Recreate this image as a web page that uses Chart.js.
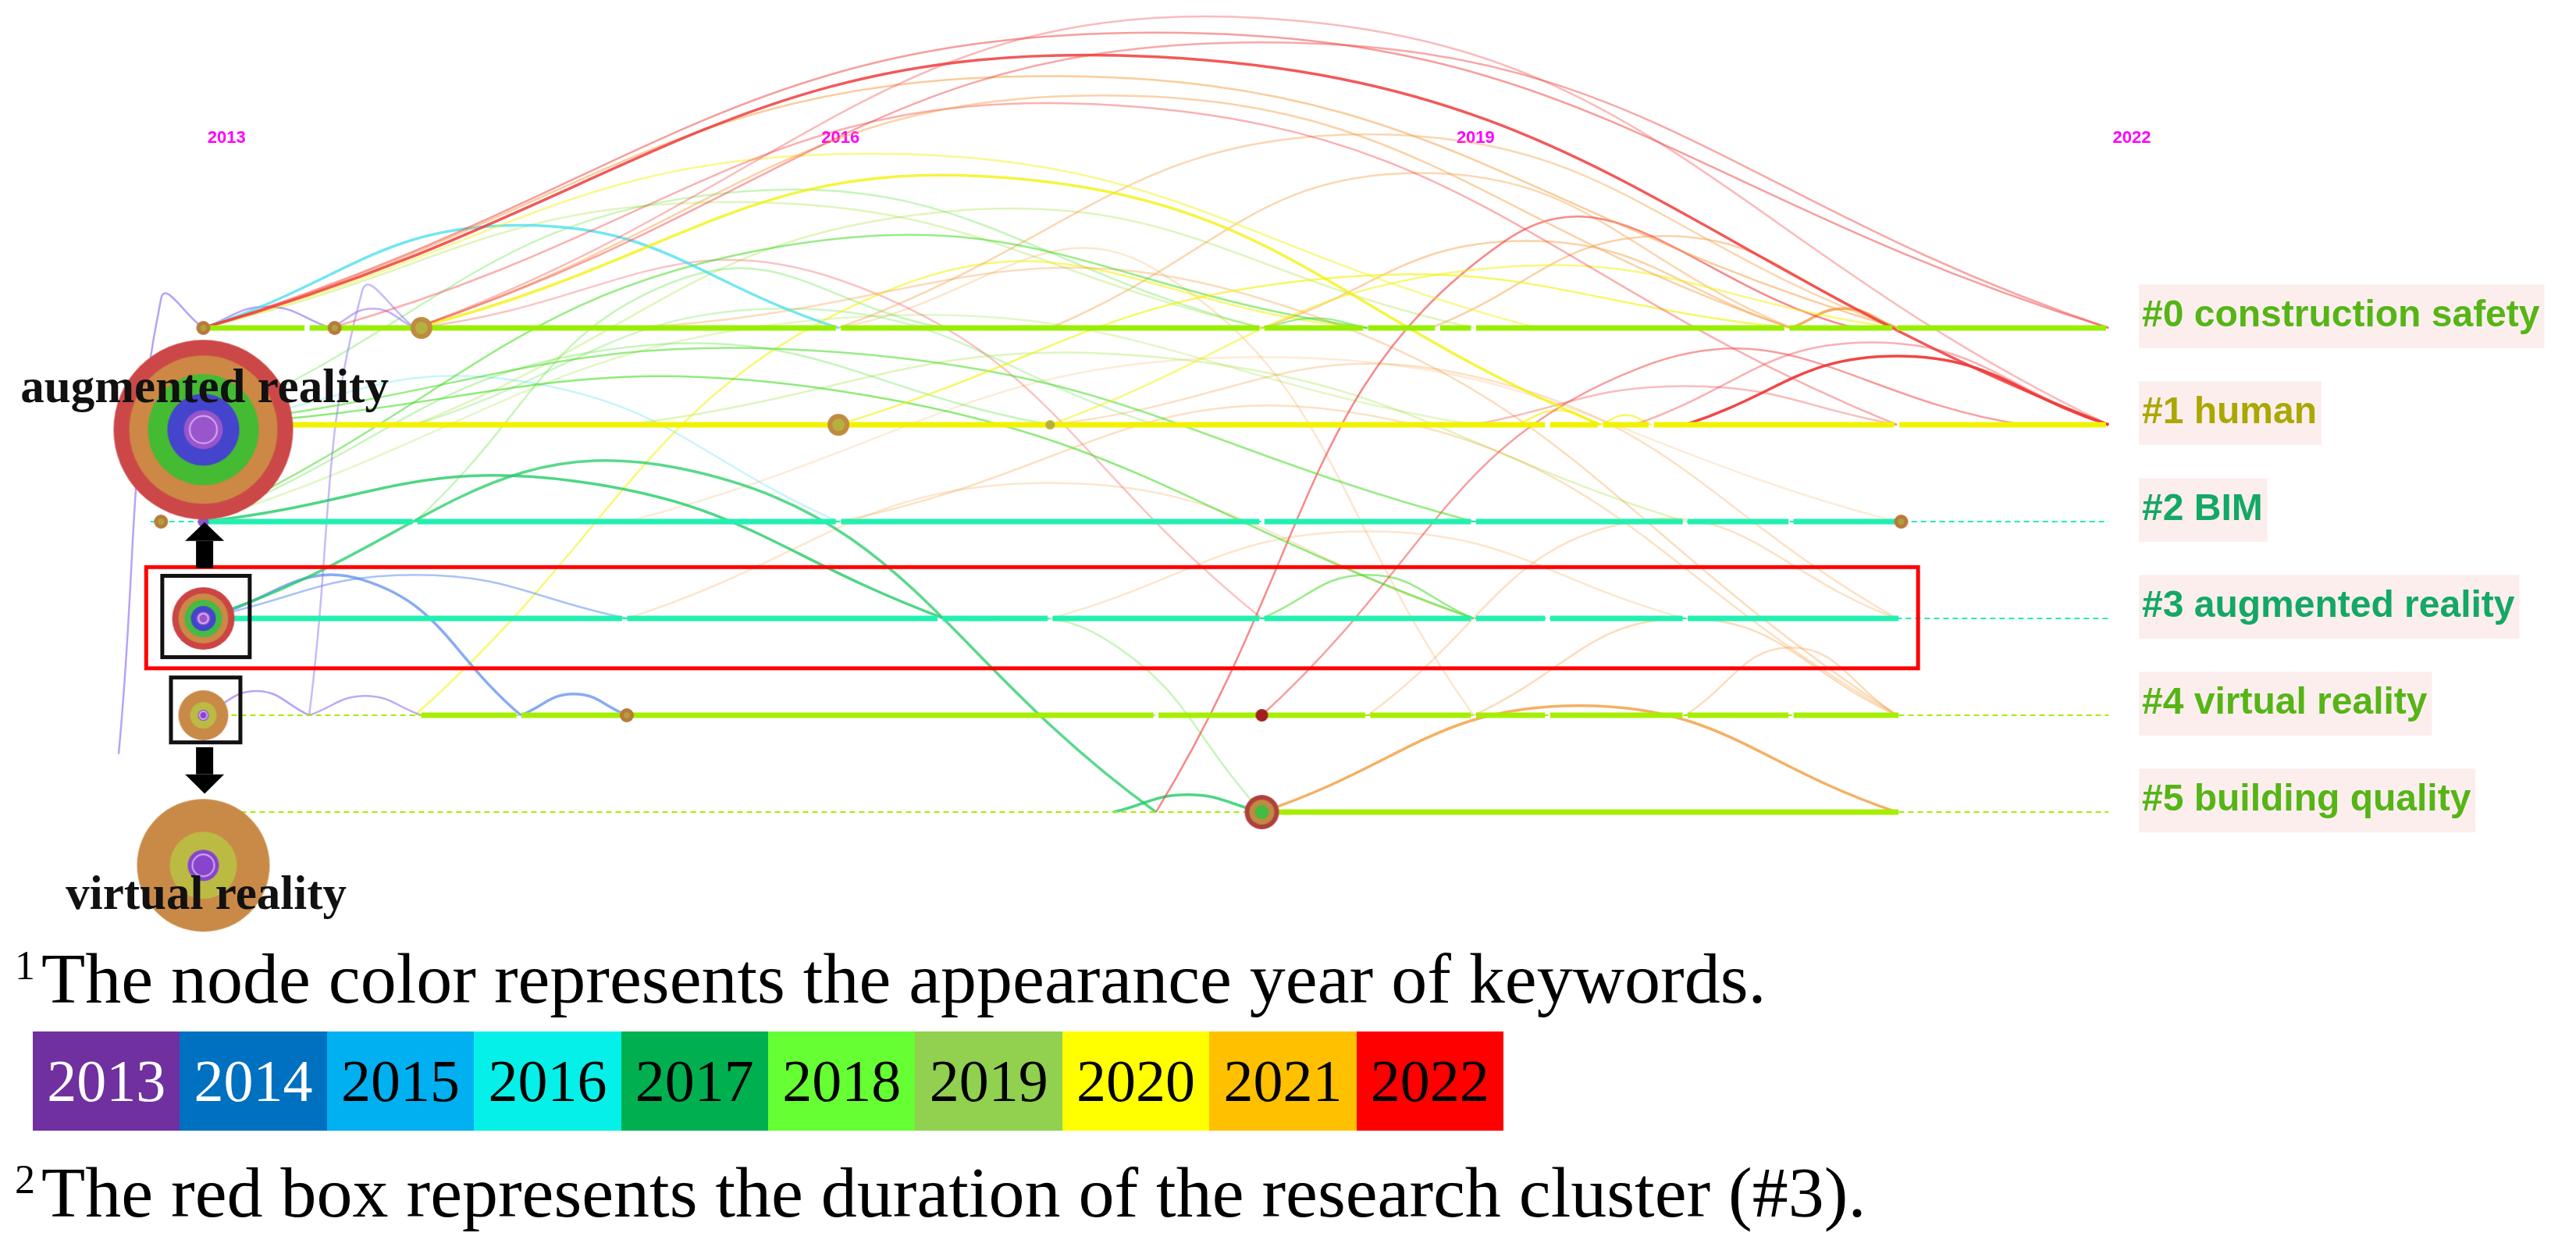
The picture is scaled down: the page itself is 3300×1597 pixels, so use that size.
<!DOCTYPE html>
<html>
<head>
<meta charset="utf-8">
<script src="https://cdn.jsdelivr.net/npm/chart.js@4.4.1/dist/chart.umd.min.js"></script>
<style>
  body { margin: 0; background: #fff; width: 3300px; height: 1597px; overflow: hidden; position: relative; }
  #wrap { position: absolute; left: 0; top: 0; width: 3300px; height: 1240px; }
  .note { position: absolute; left: 19px; font-family: "Liberation Serif", serif; font-size: 92px; line-height: 1; white-space: nowrap; color: #000; }
  .note sup { font-size: 52px; vertical-align: 30px; margin-right: 8px; }
  #legend { position: absolute; left: 42px; top: 1321px; width: 1884px; height: 127px; display: flex; }
  #legend div { flex: 1; display: flex; align-items: center; justify-content: center; font-family: "Liberation Serif", serif; font-size: 76px; }
</style>
</head>
<body>
<div id="wrap"><canvas id="timeline" width="3300" height="1240"></canvas></div>
<div class="note" style="top:1207px"><sup>1</sup>The node color represents the appearance year of keywords.</div>
<div id="legend"></div>
<div class="note" style="top:1481px"><sup>2</sup>The red box represents the duration of the research cluster (#3).</div>
<script>
// year ticks on top, clusters on the right
const yearTicks = [2013.11, 2016.01, 2019.01, 2022.11];
const clusterNames = ['#0 construction safety', '#1 human', '#2 BIM', '#3 augmented reality', '#4 virtual reality', '#5 building quality'];
const clusterColors = ['#55b516', '#aaa800', '#13a865', '#13a865', '#55b516', '#55b516'];
const legendYears = [2013, 2014, 2015, 2016, 2017, 2018, 2019, 2020, 2021, 2022];
const legendColors = ['#7030a0', '#0070c0', '#00b0f0', '#05f0e8', '#00b050', '#66ff33', '#92d050', '#ffff00', '#ffc000', '#ff0000'];

// cluster timelines: solid span, dotted span, breaks (years)
const solidSpan = [[2013, 2022], [2012.95, 2022], [2013, 2021.02], [2013, 2021.02], [2014.03, 2021.02], [2018, 2021.02]];
const dottedSpan = [[2022, 2022], [2022, 2022], [2012.75, 2022], [2012.9, 2022], [2013, 2022], [2013, 2022]];
const lineBreaks = [
  [2013.49, 2014.05, 2016.0, 2018.0, 2018.49, 2018.83, 2019.0, 2020.48, 2020.99],
  [2019.35, 2019.6, 2019.84, 2021.0],
  [2014.0, 2016.0, 2018.0, 2019.0, 2020.0, 2020.5],
  [2014.99, 2016.48, 2017.0, 2018.0, 2019.0, 2019.35, 2020.0],
  [2014.49, 2015.0, 2017.5, 2018.0, 2018.5, 2019.0, 2019.35, 2020.0, 2020.5],
  []
];

// links: [fromYear, fromCluster, toYear, toCluster, peak, linkYear, strength]
const links = [
  [2013, 0, 2022, 0, -3.05, 2022, .5],
  [2013, 0, 2022, 1, -2.8, 2022, .85],
  [2014, 0, 2022, 1, -3.2, 2022, .35],
  [2014, 0, 2022, 0, -2.95, 2022, .45],
  [2013, 0, 2021, 0, -2.6, 2021, .5],
  [2014, 0, 2020.5, 0, -2.4, 2021, .45],
  [2013.6, 0, 2021, 1, -2.3, 2022, .4],
  [2013, 0, 2019.3, 0, -1.8, 2020, .45],
  [2014, 0, 2019.6, 1, -1.55, 2020, .75],
  [2013, 0, 2016, 0, -1.06, 2016, .75],
  [2016, 1, 2020.5, 0, -0.5, 2020, .6],
  [2017, 1, 2021, 0, -0.6, 2020, .5],
  [2013, 2, 2016.5, 3, 1.58, 2017, .8],
  [2013, 3, 2017.5, 5, 1.45, 2017, .75],
  [2013, 1, 2019, 3, 0.65, 2018, .6],
  [2013, 1, 2019, 2, 0.25, 2018, .55],
  [2013, 2, 2018.5, 0, -0.85, 2018, .55],
  [2013, 3, 2014.5, 4, 2.6, 2014, .7],
  [2013, 3, 2015, 3, 2.55, 2014, .5],
  [2014.5, 4, 2015, 4, 3.78, 2014, .7],
  [2013, 4, 2013.5, 4, 3.75, 2013, .6],
  [2013.5, 4, 2014.03, 4, 3.8, 2013, .55],
  [2012.6, 4.4, 2013, 0, -0.3, 2013, .6],
  [2013.5, 4, 2014, 0, -0.38, 2013, .45],
  [2013, 0, 2013.6, 0, -0.22, 2013, .6],
  [2013.6, 0, 2014, 0, -0.2, 2013, .5],
  [2020, 1, 2022, 1, 0.29, 2022, .95],
  [2019.76, 1, 2022, 1, 0.15, 2022, .4],
  [2019, 1, 2021, 1, 0.6, 2022, .35],
  [2018, 4, 2021.6, 1, 0.4, 2022, .5],
  [2017.5, 5, 2020.8, 0, -0.9, 2022, .6],
  [2018, 5, 2021, 5, 3.9, 2021, .8],
  [2020.5, 0, 2021, 0, -0.2, 2021, .8],
  [2019.2, 1, 2019.6, 1, 0.85, 2020, .6],
  [2019.6, 1, 2019.84, 1, 0.9, 2020, .6],
  [2018, 0, 2020.5, 0, -0.9, 2021, .45],
  [2018.8, 0, 2021, 0, -0.95, 2021, .45],
  [2017, 0, 2020.5, 0, -1.6, 2021, .4],
  [2016, 0, 2021, 0, -2.0, 2021, .4],
  [2015, 0, 2021, 4, -0.3, 2021, .35],
  [2017.3, 5, 2018, 5, 4.82, 2017, .8],
  [2016.5, 3, 2018, 5, 3.2, 2018, .3],
  [2018, 3, 2019, 3, 2.55, 2018, .55],
  [2018, 0, 2018.5, 0, -0.1, 2018, .5],
  [2014, 4, 2018.5, 0, -0.4, 2020, .55],
  [2019, 4, 2021, 4, 3.0, 2021, .35],
  [2020, 4, 2021, 4, 3.3, 2021, .35],
  [2018.5, 4, 2021, 3, 2.0, 2021, .3],
  [2016, 2, 2021, 4, 0.9, 2021, .3],
  [2017, 1, 2021, 3, 0.5, 2021, .3],
  [2015, 1, 2020, 2, 0.3, 2019, .3],
  [2014, 1, 2019, 0, -1.2, 2019, .3],
  [2013, 1, 2018, 0, -1.4, 2018, .3],
  [2013, 2, 2017, 1, 0.2, 2018, .3],
  [2013, 1, 2016, 2, 0.55, 2016, .3],
  [2014, 2, 2016.5, 0, -0.5, 2018, .3],
  [2014, 0, 2018, 3, -0.5, 2022, .3],
  [2015, 3, 2019, 3, 1.6, 2021, .25],
  [2017, 3, 2020, 3, 2.1, 2021, .25],
  [2013, 0, 2018, 0, -1.3, 2019, .3],
  [2014, 1, 2017.5, 1, -0.2, 2018, .25],
  [2016, 0, 2019, 4, -0.6, 2021, .25],
  [2013, 2, 2019, 1, -0.1, 2019, .25],
  [2015, 2, 2021, 2, 0.3, 2021, .2]
];

// keyword nodes
const nodeYears = [2013, 2013.62, 2014.03, 2016, 2017, 2012.8, 2013, 2021.02, 2015, 2018, 2018, 2013, 2013, 2013, 2013];
const nodeClusters = [0, 0, 0, 1, 1, 2, 2, 2, 4, 4, 5, 3, 4, 1.05, 5.55];
const nodeKinds = ['small', 'small', 'mid', 'mid', 'dot', 'small', 'purple', 'small', 'small', 'dark', 'bq', 'ar', 'vr', 'arBig', 'vrBig'];

const linkColors = { 2013: '136,102,238', 2014: '85,136,238', 2015: '68,170,238', 2016: '68,221,238', 2017: '34,204,102',
  2018: '68,221,34', 2019: '153,221,34', 2020: '242,242,0', 2021: '243,156,60', 2022: '240,60,60' };
const lineColors = ['#99ee00', '#f2f200', '#22f0b0', '#22f0b0', '#a6ee00', '#a6ee00'];
const rings = {
  small: [[9, '#b87a3a'], [4, '#b0a040']],
  mid: [[14, '#c08a40'], [8, '#b5b040']],
  dot: [[6, '#b5b040']],
  purple: [[7, '#8855cc']],
  dark: [[8, '#a02020']],
  bq: [[22, '#b04040'], [16, '#c08a40'], [9, '#44bb44']],
  ar: [[40, '#cc4444'], [32, '#cc8844'], [24, '#44bb44'], [16, '#4444cc'], [9, '#9955cc']],
  vr: [[32, '#c98a48'], [17, '#bbbb44'], [7, '#8844cc']],
  arBig: [[115, '#cc4848'], [95, '#cc8844'], [71, '#44bb33'], [46, '#4444cc'], [25, '#9955cc']],
  vrBig: [[85, '#c98a48'], [43, '#bbbb44'], [20, '#8844cc']]
};

function ringImage(list) {
  const r = list[0][0];
  const c = document.createElement('canvas');
  c.width = c.height = r * 2 + 2;
  const g = c.getContext('2d');
  list.forEach(([rad, col]) => {
    g.beginPath(); g.arc(r + 1, r + 1, rad, 0, Math.PI * 2); g.fillStyle = col; g.fill();
  });
  if (r > 30) {
    g.beginPath(); g.arc(r + 1, r + 1, list[list.length - 1][0] * 0.7, 0, Math.PI * 2);
    g.strokeStyle = 'rgba(230,200,255,0.8)'; g.lineWidth = 2; g.stroke();
  }
  return c;
}

// legend cells
const legend = document.getElementById('legend');
legendYears.forEach((y, i) => {
  const d = document.createElement('div');
  d.textContent = y;
  d.style.background = legendColors[i];
  d.style.color = i < 2 ? '#fff' : '#000';
  legend.appendChild(d);
});

const datasets = [];
// nodes on top
datasets.push({
  type: 'scatter', order: 0, clip: false,
  data: nodeYears.map((x, i) => ({ x: x, y: nodeClusters[i] })),
  pointStyle: nodeKinds.map(k => ringImage(rings[k])),
  pointRadius: 10, pointHoverRadius: 10
});
// cluster timelines
clusterNames.forEach((n, c) => {
  const d = dottedSpan[c];
  if (d[1] > d[0]) {
    datasets.push({ type: 'line', order: 1, clip: false, data: [{ x: d[0], y: c }, { x: d[1], y: c }],
      borderColor: lineColors[c], borderWidth: 2, borderDash: [7, 5], pointRadius: 0 });
  }
  const s = solidSpan[c];
  const cuts = [s[0]].concat(lineBreaks[c].filter(b => b > s[0] && b < s[1]), [s[1]]);
  for (let i = 0; i < cuts.length - 1; i++) {
    datasets.push({ type: 'line', order: 1, clip: false,
      data: [{ x: cuts[i] + (i ? 0.012 : 0), y: c }, { x: cuts[i + 1] - 0.012, y: c }],
      borderColor: lineColors[c], borderWidth: 7, pointRadius: 0 });
  }
});
// links
links.forEach(l => {
  const [x1, c1, x2, c2, top, yr, s] = l;
  datasets.push({ type: 'line', order: 2, clip: false,
    data: [{ x: x1, y: c1 }, { x: (x1 + x2) / 2, y: top }, { x: x2, y: c2 }],
    tension: 0.45, pointRadius: 0,
    borderColor: 'rgba(' + linkColors[yr] + ',' + s + ')', borderWidth: s > 0.6 ? 3.5 : 2.5 });
});

const overlay = {
  id: 'overlay',
  afterDatasetsDraw(chart) {
    const g = chart.ctx, X = chart.scales.x, Y = chart.scales.y;
    const px = v => X.getPixelForValue(v), py = v => Y.getPixelForValue(v);
    g.save();
    g.strokeStyle = '#ff0000'; g.lineWidth = 5;
    g.strokeRect(px(2012.73), py(2.47), px(2021.10) - px(2012.73), py(3.515) - py(2.47));
    g.strokeStyle = '#111'; g.lineWidth = 5;
    g.strokeRect(px(2012.806), py(2.56), px(2013.219) - px(2012.806), py(3.40) - py(2.56));
    g.strokeRect(px(2012.847), py(3.61), px(2013.175) - px(2012.847), py(4.28) - py(3.61));
    // arrows
    const ax = px(2013.006);
    g.fillStyle = '#000';
    g.fillRect(ax - 11, py(2.2), 22, py(2.48) - py(2.2));
    g.beginPath(); g.moveTo(ax - 25, py(2.2)); g.lineTo(ax + 25, py(2.2)); g.lineTo(ax, py(2.006)); g.fill();
    g.fillRect(ax - 11, py(4.33), 22, py(4.61) - py(4.33));
    g.beginPath(); g.moveTo(ax - 25, py(4.61)); g.lineTo(ax + 25, py(4.61)); g.lineTo(ax, py(4.81)); g.fill();
    // node labels
    g.font = 'bold 61px "Liberation Serif", serif';
    g.textAlign = 'center'; g.textBaseline = 'middle';
    g.fillStyle = '#111';
    g.fillText('augmented reality', ax, py(0.64));
    g.fillText('virtual reality', ax + 2, py(5.87));
    g.restore();
  }
};

new Chart(document.getElementById('timeline'), {
  data: { datasets: datasets },
  options: {
    responsive: false, animation: false, devicePixelRatio: 1,
    layout: { padding: 0 },
    plugins: { legend: { display: false }, tooltip: { enabled: false } },
    scales: {
      x: {
        type: 'linear', position: 'top', min: 2012.080, max: 2022.143,
        grid: { display: false, drawTicks: false }, border: { display: false },
        afterBuildTicks: s => { s.ticks = yearTicks.map(v => ({ value: v })); },
        afterFit: s => { s.height = 200; },
        ticks: { color: '#ff00ff', font: { family: 'Liberation Sans', size: 22, weight: 'bold' }, padding: 10,
          autoSkip: false, maxRotation: 0, callback: v => String(Math.round(v)) }
      },
      y: { type: 'linear', display: false, reverse: true, min: -1.774, max: 6.348 },
      y2: {
        type: 'linear', position: 'right', reverse: true, min: -1.774, max: 6.348,
        grid: { display: false, drawTicks: false }, border: { display: false },
        afterBuildTicks: s => { s.ticks = clusterNames.map((n, i) => ({ value: i - 0.12 })); },
        afterFit: s => { s.width = 560; },
        ticks: {
          color: c => clusterColors[c.index], padding: 4, autoSkip: false,
          font: { family: 'Liberation Sans', size: 48, weight: 'bold' },
          showLabelBackdrop: true, backdropColor: '#fdeeee', backdropPadding: { x: 6, y: 12 },
          callback: (v, i) => clusterNames[i]
        }
      }
    }
  },
  plugins: [overlay]
});
</script>
</body>
</html>
